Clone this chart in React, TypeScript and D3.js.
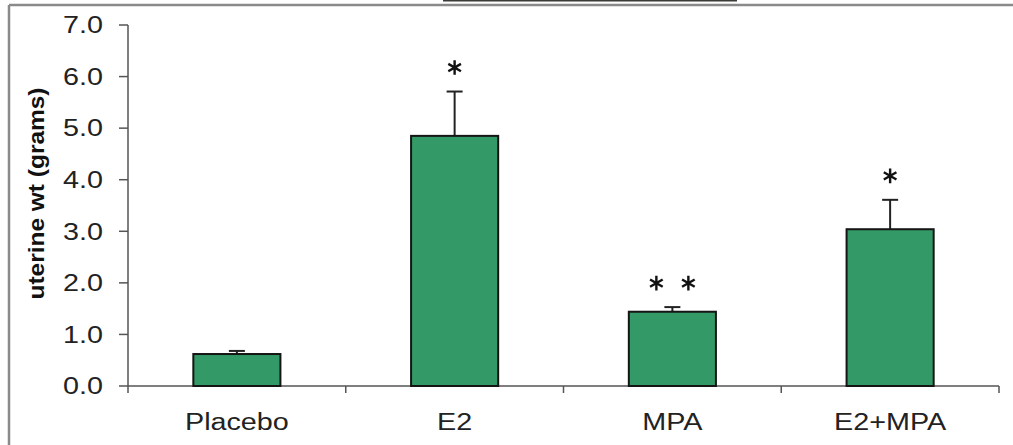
import React from "react";
import * as d3 from "d3";

// Uterine weight by treatment group (mean + SEM)
const groups = ["Placebo", "E2", "MPA", "E2+MPA"];
const means = [0.62, 4.85, 1.44, 3.04];
const errors = [0.06, 0.86, 0.09, 0.57];
// number of significance asterisks above each bar
const stars = [0, 1, 2, 1];
const yTicks = [0, 1, 2, 3, 4, 5, 6, 7];

const W = 1013;
const H = 445;
const margin = { left: 128, right: 14, top: 25, bottom: 59 };
const FONT = "Arial, 'Liberation Sans', Helvetica, sans-serif";
// text in this figure is drawn horizontally widened
const STRETCH = 1.25;

export default function App() {
  const x = d3
    .scaleBand<string>()
    .domain(groups)
    .range([margin.left, W - margin.right])
    .paddingInner(0.6)
    .paddingOuter(0.3);
  const y = d3
    .scaleLinear()
    .domain([0, 7])
    .range([H - margin.bottom, margin.top]);

  const step = x.step();
  const boundaries = groups.map((_, i) => margin.left + step * (i + 1));
  const starPath = d3.symbol(d3.symbolAsterisk, 150)() as string;

  return (
    <svg
      width={W}
      height={H}
      style={{ position: "absolute", left: 0, top: 0, background: "#fff" }}
    >
      {/* frame */}
      <line x1={443} x2={737} y1={0.5} y2={0.5} stroke="#3a3d36" strokeWidth={2} />
      <line x1={9} x2={W} y1={5} y2={5} stroke="#8a8a8a" strokeWidth={2.5} />
      <line x1={9} x2={9} y1={5} y2={H} stroke="#8a8a8a" strokeWidth={2.5} />

      {/* y axis */}
      <line
        x1={margin.left}
        x2={margin.left}
        y1={y(7)}
        y2={y(0) + 7}
        stroke="#555"
        strokeWidth={1.5}
      />
      {yTicks.map((t) => (
        <g key={t}>
          <line
            x1={margin.left - 9}
            x2={margin.left}
            y1={y(t)}
            y2={y(t)}
            stroke="#555"
            strokeWidth={1.5}
          />
          <text
            transform={`translate(103,${y(t)}) scale(${STRETCH},1)`}
            dy="0.36em"
            textAnchor="end"
            fontFamily={FONT}
            fontSize={23}
            fill="#222"
          >
            {t.toFixed(1)}
          </text>
        </g>
      ))}
      <text
        transform={`translate(44,${(y(0) + y(7)) / 2 - 12}) rotate(-90)`}
        textAnchor="middle"
        fontFamily={FONT}
        fontSize={22}
        fontWeight="bold"
        fill="#111"
        textLength={212}
        lengthAdjust="spacingAndGlyphs"
      >
        uterine wt (grams)
      </text>

      {/* x axis */}
      <line
        x1={margin.left}
        x2={W - margin.right}
        y1={y(0)}
        y2={y(0)}
        stroke="#555"
        strokeWidth={1.5}
      />
      {boundaries.map((bx, i) => (
        <line
          key={i}
          x1={bx}
          x2={bx}
          y1={y(0)}
          y2={y(0) + 7}
          stroke="#555"
          strokeWidth={1.5}
        />
      ))}

      {/* bars, error bars, labels */}
      {groups.map((g, i) => {
        const bx = x(g)!;
        const bw = x.bandwidth();
        const cx = bx + bw / 2;
        const top = y(means[i]);
        const errTop = y(means[i] + errors[i]);
        const n = stars[i];
        return (
          <g key={g}>
            <line x1={cx} x2={cx} y1={top} y2={errTop} stroke="#222" strokeWidth={2} />
            <line
              x1={cx - 8}
              x2={cx + 8}
              y1={errTop}
              y2={errTop}
              stroke="#222"
              strokeWidth={2}
            />
            <rect
              x={bx}
              y={top}
              width={bw}
              height={y(0) - top}
              fill="#339966"
              stroke="#151515"
              strokeWidth={2}
            />
            {d3.range(n).map((k) => (
              <path
                key={k}
                d={starPath}
                transform={`translate(${cx + (k - (n - 1) / 2) * 32},${errTop - 24})`}
                fill="none"
                stroke="#111"
                strokeWidth={2.4}
              />
            ))}
            <text
              transform={`translate(${cx},430) scale(${STRETCH},1)`}
              textAnchor="middle"
              fontFamily={FONT}
              fontSize={23}
              fill="#222"
            >
              {g}
            </text>
          </g>
        );
      })}
    </svg>
  );
}
